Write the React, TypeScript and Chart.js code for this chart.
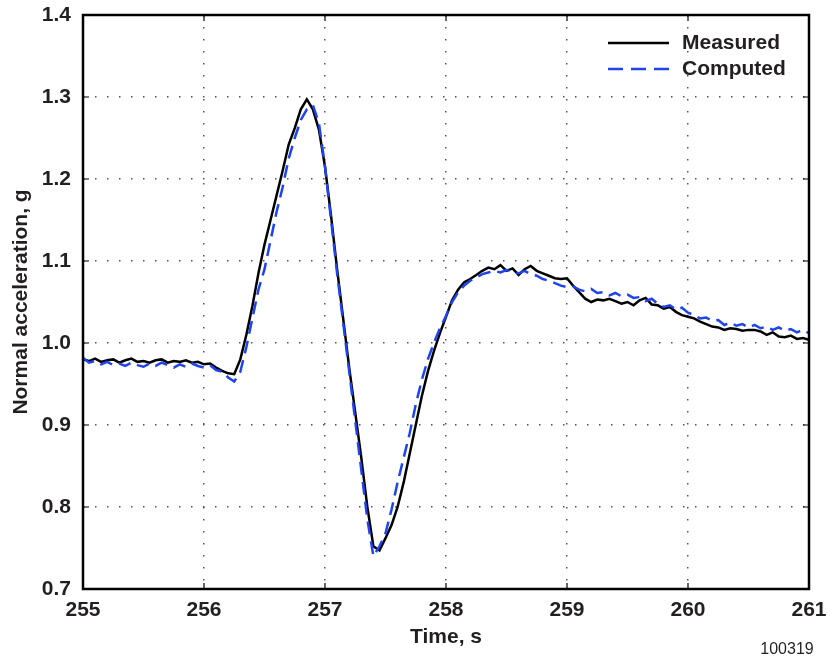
import React, { useEffect, useRef } from "react";
import { Chart, registerables } from "chart.js";

Chart.register(...registerables);

const times = [
  255.0, 255.05, 255.1, 255.15, 255.2, 255.25, 255.3, 255.35, 255.4, 255.45,
  255.5, 255.55, 255.6, 255.65, 255.7, 255.75, 255.8, 255.85, 255.9, 255.95,
  256.0, 256.05, 256.1, 256.15, 256.2, 256.25, 256.3, 256.35, 256.4, 256.45,
  256.5, 256.55, 256.6, 256.65, 256.7, 256.75, 256.8, 256.85, 256.9, 256.95,
  257.0, 257.05, 257.1, 257.15, 257.2, 257.25, 257.3, 257.35, 257.4, 257.45,
  257.5, 257.55, 257.6, 257.65, 257.7, 257.75, 257.8, 257.85, 257.9, 257.95,
  258.0, 258.05, 258.1, 258.15, 258.2, 258.25, 258.3, 258.35, 258.4, 258.45,
  258.5, 258.55, 258.6, 258.65, 258.7, 258.75, 258.8, 258.85, 258.9, 258.95,
  259.0, 259.05, 259.1, 259.15, 259.2, 259.25, 259.3, 259.35, 259.4, 259.45,
  259.5, 259.55, 259.6, 259.65, 259.7, 259.75, 259.8, 259.85, 259.9, 259.95,
  260.0, 260.05, 260.1, 260.15, 260.2, 260.25, 260.3, 260.35, 260.4, 260.45,
  260.5, 260.55, 260.6, 260.65, 260.7, 260.75, 260.8, 260.85, 260.9, 260.95,
  261.0,
];

const measured = [
  0.98, 0.978, 0.981, 0.977, 0.979, 0.98, 0.976, 0.979, 0.981, 0.977,
  0.978, 0.976, 0.979, 0.98, 0.976, 0.978, 0.977, 0.979, 0.976, 0.977,
  0.974, 0.975, 0.97, 0.966, 0.963, 0.962, 0.98, 1.01, 1.045, 1.085,
  1.12, 1.15, 1.18, 1.21, 1.242, 1.262, 1.285, 1.297, 1.285, 1.26,
  1.215, 1.155, 1.09, 1.03, 0.97, 0.915, 0.86, 0.8, 0.752, 0.747,
  0.762, 0.778, 0.8, 0.83, 0.865, 0.9, 0.935, 0.965, 0.99, 1.012,
  1.032, 1.052, 1.065, 1.074, 1.078, 1.083, 1.088, 1.092, 1.09, 1.095,
  1.088, 1.091, 1.083, 1.09, 1.094, 1.088, 1.085, 1.082, 1.079, 1.078,
  1.079, 1.07, 1.062, 1.054, 1.05, 1.053, 1.052, 1.054, 1.051, 1.048,
  1.05, 1.046, 1.052, 1.055, 1.047, 1.046, 1.042, 1.044, 1.038, 1.034,
  1.032, 1.03, 1.026, 1.023, 1.02, 1.019, 1.016, 1.018, 1.017, 1.015,
  1.016, 1.016, 1.014, 1.01, 1.013, 1.008, 1.007, 1.009, 1.005, 1.006,
  1.004,
];

const computed = [
  0.982, 0.976, 0.978, 0.974, 0.977, 0.973, 0.975, 0.972, 0.976, 0.973,
  0.971, 0.975, 0.972, 0.976, 0.973, 0.97, 0.974, 0.971, 0.975, 0.972,
  0.97, 0.973, 0.967, 0.965, 0.958, 0.953, 0.965, 0.995, 1.03, 1.065,
  1.09, 1.125, 1.16, 1.19, 1.225, 1.25, 1.272, 1.285, 1.29, 1.268,
  1.215, 1.15, 1.085, 1.025, 0.965, 0.905, 0.845, 0.785, 0.74, 0.752,
  0.768, 0.797, 0.83, 0.86, 0.89, 0.925, 0.955, 0.98, 1.0, 1.018,
  1.033, 1.05, 1.062, 1.07, 1.076, 1.08, 1.084, 1.086, 1.088, 1.086,
  1.089, 1.087, 1.085, 1.088, 1.084, 1.082, 1.078, 1.076, 1.073, 1.07,
  1.068, 1.069, 1.065, 1.063, 1.066, 1.061, 1.062, 1.058, 1.061, 1.057,
  1.059, 1.055, 1.056, 1.051, 1.054, 1.048, 1.044, 1.046, 1.041, 1.043,
  1.037, 1.034, 1.03, 1.031, 1.027, 1.028, 1.022, 1.025, 1.021, 1.023,
  1.019, 1.022, 1.018, 1.02, 1.016, 1.019, 1.015, 1.017, 1.013, 1.016,
  1.012,
];

const seriesNames = ["Measured", "Computed"];
const xTitle = "Time, s";
const yTitle = "Normal acceleration, g";
const figureId = "100319";

const FONT = '"Liberation Sans", Arial, Helvetica, sans-serif';
const TEXT = "#231f20";
const BLUE = "#1f44ee";
const DASH = [13, 7];

const decorPlugin = {
  id: "decor",
  afterDraw(chart: any) {
    const { ctx, chartArea } = chart;
    const { left, right, top, bottom } = chartArea;
    const xs = chart.scales.x;
    const ys = chart.scales.y;
    ctx.save();
    // frame
    ctx.strokeStyle = "#000";
    ctx.lineWidth = 2.5;
    ctx.setLineDash([]);
    ctx.strokeRect(left, top, right - left, bottom - top);
    // inward ticks
    ctx.lineWidth = 1.2;
    xs.ticks.forEach((t: any) => {
      const px = xs.getPixelForValue(t.value);
      ctx.beginPath();
      ctx.moveTo(px, bottom);
      ctx.lineTo(px, bottom - 6);
      ctx.moveTo(px, top);
      ctx.lineTo(px, top + 6);
      ctx.stroke();
    });
    ys.ticks.forEach((t: any) => {
      const py = ys.getPixelForValue(t.value);
      ctx.beginPath();
      ctx.moveTo(left, py);
      ctx.lineTo(left + 6, py);
      ctx.moveTo(right, py);
      ctx.lineTo(right - 6, py);
      ctx.stroke();
    });
    // legend
    const lx0 = 608;
    const lx1 = 669;
    const rows = [43, 69];
    ctx.lineWidth = 2.5;
    ctx.strokeStyle = "#000";
    ctx.beginPath();
    ctx.moveTo(lx0, rows[0]);
    ctx.lineTo(lx1, rows[0]);
    ctx.stroke();
    ctx.strokeStyle = BLUE;
    ctx.setLineDash([15, 8]);
    ctx.beginPath();
    ctx.moveTo(lx0, rows[1]);
    ctx.lineTo(lx1, rows[1]);
    ctx.stroke();
    ctx.setLineDash([]);
    ctx.fillStyle = TEXT;
    ctx.font = `bold 21px ${FONT}`;
    ctx.textAlign = "left";
    ctx.textBaseline = "middle";
    ctx.fillText(seriesNames[0], 682, rows[0]);
    ctx.fillText(seriesNames[1], 682, rows[1]);
    // axis titles
    ctx.textAlign = "center";
    ctx.fillText(xTitle, (left + right) / 2, 637);
    ctx.save();
    ctx.translate(21, (top + bottom) / 2);
    ctx.rotate(-Math.PI / 2);
    ctx.fillText(yTitle, 0, 0);
    ctx.restore();
    // figure id
    ctx.font = `16px ${FONT}`;
    ctx.fillText(figureId, 787, 650);
    ctx.restore();
  },
};

export default function App() {
  const ref = useRef<HTMLCanvasElement | null>(null);
  useEffect(() => {
    document.body.style.margin = "0";
    const canvas = ref.current;
    if (!canvas) return;
    const chart = new Chart(canvas, {
      type: "line",
      data: {
        datasets: [
          {
            label: seriesNames[0],
            data: times.map((t, i) => ({ x: t, y: measured[i] })),
            borderColor: "#000",
            borderWidth: 2.5,
            pointRadius: 0,
            tension: 0,
            order: 1,
          },
          {
            label: seriesNames[1],
            data: times.map((t, i) => ({ x: t, y: computed[i] })),
            borderColor: BLUE,
            borderWidth: 2.5,
            borderDash: DASH,
            pointRadius: 0,
            tension: 0,
            order: 0,
          },
        ],
      },
      options: {
        animation: false,
        responsive: false,
        maintainAspectRatio: false,
        layout: { padding: { left: 0, top: 15, right: 22, bottom: 0 } },
        plugins: {
          legend: { display: false },
          tooltip: { enabled: false },
        },
        scales: {
          x: {
            type: "linear",
            min: 255,
            max: 261,
            afterFit: (s: any) => {
              s.height = 75;
              s.paddingLeft = 0;
              s.paddingRight = 0;
            },
            ticks: {
              stepSize: 1,
              padding: 9,
              color: TEXT,
              font: { family: FONT, size: 21, weight: "bold" },
              callback: (v: any) => String(v),
            },
            grid: {
              color: "#555",
              lineWidth: 1.5,
              drawTicks: false,
            },
            border: { display: false, dash: [1.5, 10.5] },
          },
          y: {
            type: "linear",
            min: 0.7,
            max: 1.4,
            afterFit: (s: any) => {
              s.width = 83;
              s.paddingTop = 0;
              s.paddingBottom = 0;
            },
            ticks: {
              stepSize: 0.1,
              padding: 12,
              color: TEXT,
              font: { family: FONT, size: 21, weight: "bold" },
              callback: (v: any) => Number(v).toFixed(1),
            },
            grid: {
              color: "#555",
              lineWidth: 1.5,
              drawTicks: false,
            },
            border: { display: false, dash: [1.5, 10.5] },
          },
        },
      },
      plugins: [decorPlugin],
    });
    return () => chart.destroy();
  }, []);
  return (
    <div style={{ position: "absolute", left: 0, top: 0, width: 831, height: 664, background: "#fff" }}>
      <canvas ref={ref} width={831} height={664} />
    </div>
  );
}
